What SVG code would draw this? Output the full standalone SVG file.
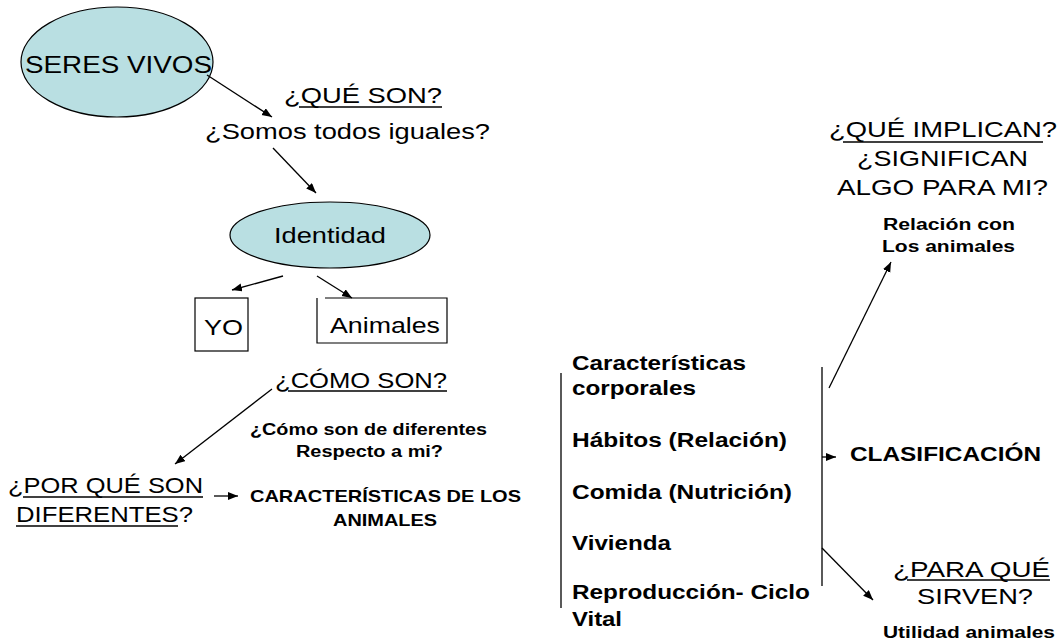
<svg xmlns="http://www.w3.org/2000/svg" width="1059" height="641" viewBox="0 0 1059 641">
<style>
  text { font-family: "Liberation Sans", Arial, sans-serif; fill: #000; }
  .r { font-size: 22px; }
  .b20 { font-size: 20px; font-weight: bold; }
  .b16 { font-size: 16px; font-weight: bold; }
  .b17 { font-size: 17px; font-weight: bold; }
  .ell { fill: #b9dfe2; stroke: #000; stroke-width: 1.2; }
  .box { fill: #fff; stroke: #000; stroke-width: 1.2; }
  .ul { stroke: #000; stroke-width: 1.6; }
  .conn line { stroke: #000; stroke-width: 1.3; }
  .arr { marker-end: url(#ah); }
  .brk { stroke: #000; stroke-width: 1.3; }
</style>
<defs>
  <marker id="ah" markerUnits="userSpaceOnUse" markerWidth="12" markerHeight="10" refX="10" refY="4" orient="auto">
    <path d="M0,0 L10,4 L0,8 Z" fill="#000"/>
  </marker>
</defs>
<rect width="1059" height="641" fill="#fff"/>

<g id="seres-vivos">
  <ellipse class="ell" cx="117" cy="62" rx="96" ry="55"/>
  <text x="25" y="73" style="font-size:24px" textLength="187" lengthAdjust="spacingAndGlyphs">SERES VIVOS</text>
</g>

<g id="que-son">
  <text class="r" x="284" y="103" textLength="158" lengthAdjust="spacingAndGlyphs">¿QUÉ SON?</text>
  <line class="ul" x1="299" y1="107" x2="442" y2="107"/>
  <text class="r" x="205" y="139" textLength="285" lengthAdjust="spacingAndGlyphs">¿Somos todos iguales?</text>
</g>

<g id="identidad">
  <ellipse class="ell" cx="330" cy="235" rx="100" ry="33"/>
  <text class="r" x="274" y="243" textLength="112" lengthAdjust="spacingAndGlyphs">Identidad</text>
</g>

<g id="yo">
  <rect class="box" x="195" y="298" width="53" height="53"/>
  <text class="r" x="204" y="335" textLength="39" lengthAdjust="spacingAndGlyphs">YO</text>
</g>

<g id="animales">
  <path d="M325,298 H447 V343 H317 V298" fill="#fff" stroke="#000" stroke-width="1.2"/>
  <text class="r" x="330" y="333" textLength="110" lengthAdjust="spacingAndGlyphs">Animales</text>
</g>

<g id="como-son">
  <text class="r" x="275" y="388" textLength="172" lengthAdjust="spacingAndGlyphs">¿CÓMO SON?</text>
  <line class="ul" x1="288" y1="391" x2="447" y2="391"/>
  <text class="b16" x="250" y="435" textLength="237" lengthAdjust="spacingAndGlyphs">¿Cómo son de diferentes</text>
  <text class="b16" x="296" y="457" textLength="147" lengthAdjust="spacingAndGlyphs">Respecto a mi?</text>
</g>

<g id="por-que">
  <text class="r" x="8" y="493" textLength="195" lengthAdjust="spacingAndGlyphs">¿POR QUÉ SON</text>
  <line class="ul" x1="23" y1="497" x2="203" y2="497"/>
  <text class="r" x="16" y="522" textLength="177" lengthAdjust="spacingAndGlyphs">DIFERENTES?</text>
  <line class="ul" x1="16" y1="526" x2="178" y2="526"/>
</g>

<g id="caracteristicas-animales">
  <text class="b17" x="250" y="502" textLength="271" lengthAdjust="spacingAndGlyphs">CARACTERÍSTICAS DE LOS</text>
  <text class="b17" x="333" y="526" textLength="104" lengthAdjust="spacingAndGlyphs">ANIMALES</text>
</g>

<g id="lista">
  <line class="brk" x1="561" y1="373" x2="561" y2="608"/>
  <text class="b20" x="572" y="370" textLength="174" lengthAdjust="spacingAndGlyphs">Características</text>
  <text class="b20" x="572" y="395" textLength="124" lengthAdjust="spacingAndGlyphs">corporales</text>
  <text class="b20" x="572" y="447" textLength="215" lengthAdjust="spacingAndGlyphs">Hábitos (Relación)</text>
  <text class="b20" x="572" y="499" textLength="220" lengthAdjust="spacingAndGlyphs">Comida (Nutrición)</text>
  <text class="b20" x="572" y="550" textLength="99" lengthAdjust="spacingAndGlyphs">Vivienda</text>
  <text class="b20" x="572" y="599" textLength="238" lengthAdjust="spacingAndGlyphs">Reproducción- Ciclo</text>
  <text class="b20" x="572" y="626" textLength="50" lengthAdjust="spacingAndGlyphs">Vital</text>
  <line class="brk" x1="822" y1="367" x2="822" y2="586"/>
</g>

<g id="clasificacion">
  <text class="b20" x="850" y="461" textLength="191" lengthAdjust="spacingAndGlyphs">CLASIFICACIÓN</text>
</g>

<g id="para-que">
  <text class="r" x="893" y="577" textLength="157" lengthAdjust="spacingAndGlyphs">¿PARA QUÉ</text>
  <line class="ul" x1="907" y1="580" x2="1050" y2="580"/>
  <text class="r" x="917" y="604" textLength="116" lengthAdjust="spacingAndGlyphs">SIRVEN?</text>
  <text class="b16" x="883" y="638" textLength="172" lengthAdjust="spacingAndGlyphs">Utilidad animales</text>
</g>

<g id="que-implican">
  <text class="r" x="829" y="137" textLength="228" lengthAdjust="spacingAndGlyphs">¿QUÉ IMPLICAN?</text>
  <line class="ul" x1="843" y1="142" x2="1043" y2="142"/>
  <text class="r" x="857" y="166" textLength="171" lengthAdjust="spacingAndGlyphs">¿SIGNIFICAN</text>
  <text class="r" x="837" y="195" textLength="211" lengthAdjust="spacingAndGlyphs">ALGO PARA MI?</text>
  <text class="b16" x="883" y="230" textLength="132" lengthAdjust="spacingAndGlyphs">Relación con</text>
  <text class="b16" x="882" y="252" textLength="133" lengthAdjust="spacingAndGlyphs">Los animales</text>
</g>

<g id="connectors" class="conn">
  <line class="arr" x1="207" y1="75" x2="272" y2="117"/>
  <line class="arr" x1="273" y1="148" x2="316" y2="193"/>
  <line class="arr" x1="283" y1="276" x2="232" y2="290"/>
  <line class="arr" x1="317" y1="276" x2="352" y2="298"/>
  <line class="arr" x1="272" y1="389" x2="175" y2="464"/>
  <line class="arr" x1="214" y1="496" x2="238" y2="496"/>
  <line class="arr" x1="822" y1="457" x2="836" y2="457"/>
  <line class="arr" x1="822" y1="548" x2="873" y2="600"/>
  <line class="arr" x1="829" y1="388" x2="891" y2="262"/>
</g>
</svg>
